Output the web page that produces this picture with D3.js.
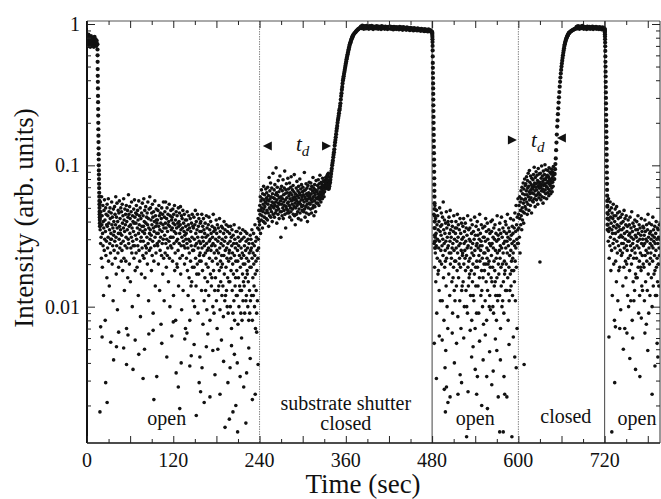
<!DOCTYPE html>
<html>
<head>
<meta charset="utf-8">
<script src="https://cdn.jsdelivr.net/npm/d3@7"></script>
<style>
  body { margin: 0; background: #fff; }
  svg { display: block; }
</style>
</head>
<body>
<script>
// Intensity readings, in units of 1e-3 (arb. units)
var UNIT = 1e-3;

// beam on, before the first shutter cycle: every 0.5 s from 0 s
var startPlateau = [760,800,720,780,840,700,760,810,740,690,780,820,750,710,790,760,730,800,770,690,740,810,760,720,780,740,700,760];
// first decay: every 0.1 s from 14.5 s
var decay1 = [720,660,600,540,480,430,390,350,310,280,250,225,200,180,162,146,132,120,110,100,92,86,80,74,69,64,60,56,53,50,47,45,43,41,39,37];

// shutter open, main band: every 1/3 s from 18 s
var open1 = [
42,35,55,28,47,31,22,60,38,44,19,33,52,27,40,12,36,48,25,57,30,41,8,34,50,23,45,29,38,16,
53,37,26,44,31,58,21,39,47,14,35,28,50,42,24,30,33,46,30,55,38,20,43,27,36,11,49,32,40,25,
34,51,29,45,22,38,60,31,17,43,27,54,36,9.5,40,24,48,33,19,46,30,56,37,26,42,33,35,50,28,21,
47,32,25,53,39,18,44,29,36,58,22,41,13,34,49,27,38,45,21,31,52,7,40,26,35,48,16,43,30,62,
28,45,37,20,51,33,42,15,38,26,47,31,55,24,36,10,44,29,40,27,34,49,22,39,57,27,43,18,32,46,
39,24,52,30,45,19,36,48,27,41,12,33,56,25,38,44,21,35,50,8.5,29,42,31,17,46,37,26,54,34,23,
44,29,37,58,22,40,33,48,16,35,27,51,39,24,26,43,31,46,20,38,55,28,42,11,36,49,25,33,60,30,
35,50,26,41,32,18,46,38,23,53,29,43,9,36,47,21,34,40,27,56,31,14,44,37,24,49,41,33,39,28,
41,27,48,33,20,37,52,29,44,13,35,25,46,31,39,7.5,42,23,50,34,28,45,17,38,30,55,22,36,11,43,
32,47,24,39,55,28,36,19,42,30,50,23,34,26,45,38,15,40,29,53,22,37,10,44,31,27,48,31,35,41,
26,43,36,21,49,31,39,12,45,28,34,52,18,38,24,41,8,33,47,29,36,20,44,19,30,39,25,50,14,37,
40,28,46,33,22,38,51,17,35,27,44,9.5,31,42,23,36,48,13,29,39,27,34,45,20,32,26,41,7,37,30,
33,22,41,28,47,18,35,26,12,38,30,44,16,24,36,8,29,42,21,34,14,27,39,15,31,45,19,25,37,11,
36,25,43,19,30,10,38,27,48,22,33,14,40,28,17,35,20,45,31,9,26,37,17,42,29,23,21,34,24,39,
28,40,21,34,13,45,26,31,18,37,7.5,29,42,23,35,11,27,33,16,39,24,13,31,20,44,28,9.5,36,25,15,
32,19,38,26,12,43,29,22,35,8,30,17,40,25,33,14,27,16,37,21,31,10,28,45,18,34,9,24,36,13,
27,35,16,30,22,41,11,33,25,7,38,20,29,13,36,24,14,31,18,42,26,9.5,34,21,15,28,19,37,23,12,
30,20,36,14,27,8.5,33,23,40,17,29,11,35,25,12,31,19,38,13,26,22,10,34,16,28,9,37,21,15,24,
25,33,15,29,10,37,22,18,31,7,27,35,13,24,20,9,32,17,28,11,38,23,8,30,14,26,16,21,34,12,
28,18,34,12,25,21,7.5,31,16,27,10,36,23,14,29,13,19,33,9,26,22,13,30,8,24,17,35,11,20,15,
23,31,14,27,9,20,34,16,25,11,29,12,22,33,18,17,26,10,30,15,21,8,28,24,13,9,19,32,11,25,
30,19,26,12,35,22,8,28,16,24,12,33,20,14,27,10,23,38,17,7,29,21,13,31,9,18,25,11,36,22,
42,30,26,48,35,40];
// shutter open, sparse low readings: [time s, value]
var openTail1 = [
[18,1.8],[19,7.2],[21,6.1],[26,2.9],[28,2.1],[33,5.6],[37,4.2],[41,5.2],[44,6.6],[51,5.1],
[55,3.9],[57,6.3],[64,3.6],[67,5.8],[72,4.6],[78,3.1],[80,5.0],[86,6.4],[92,6.8],[93,2.2],
[97,3.2],[104,5.5],[111,4.4],[118,6.2],[120,7.8],[124,3.4],[127,2.7],[129,1.9],[131,4.0],[136,5.9],
[139,6.5],[143,3.8],[145,4.5],[149,5.4],[152,1.7],[156,2.9],[157,4.4],[158,2.5],[160,3.7],[163,2.1],
[166,5.2],[168,6.4],[171,2.3],[175,4.9],[178,3.3],[182,5.0],[185,2.4],[187,5.8],[190,4.1],[192,1.4],
[196,2.9],[198,1.6],[199,3.7],[201,5.3],[203,1.8],[205,4.6],[207,2.0],[209,4.0],[209.5,1.3],[213,3.2],
[215,6.0],[218,2.7],[221,1.5],[222,3.4],[225,5.1],[227,4.3],[230,2.2],[234,2.4],[236,6.6],[238,3.9]];

// substrate shutter closed: every 1/3 s from 240 s
var closed1 = [
38,52,45,60,33,48,56,41,67,50,44,58,36,63,47,53,40,71,49,57,43,62,51,39,55,46,68,54,42,59,
64,48,57,41,70,53,46,61,37,56,82,50,44,66,58,49,75,43,60,52,47,69,55,40,63,51,88,45,59,54,
50,67,43,58,73,52,46,62,55,96,48,64,39,57,70,51,61,45,78,54,49,65,42,59,53,84,47,68,56,31,
60,47,71,53,44,66,58,50,79,42,62,55,48,69,52,91,45,63,57,36,67,51,74,49,59,46,64,54,81,48,
55,68,46,61,52,75,43,58,64,50,70,47,83,56,41,62,53,67,49,59,72,45,57,65,51,86,44,60,54,38,
63,50,58,69,45,56,77,52,61,47,66,54,42,71,59,49,64,55,80,46,62,53,68,41,57,73,51,60,48,65,
57,70,52,62,47,66,55,89,49,60,43,67,58,51,74,46,63,56,69,53,40,61,72,50,58,64,45,76,54,59,
61,53,68,49,75,57,63,46,71,55,58,66,50,82,60,52,69,44,64,56,73,51,62,67,47,59,78,54,65,58,
66,58,72,54,63,79,60,69,52,74,62,57,85,65,59,70,55,76,64,68,61,73,58,81,66,71,63,77,69,60,
72,65,78,70,74,68,82,75,71,79,76,84,80,73,86,78,83,88];

// first rise after closing: [time s, value]
var rise1 = [
[336,68],[336.5,69],[337,71],[337.5,74],[338,76],[338.5,79],[339,83],[339.5,87],[340,91],[340.5,95],
[341,100],[341.5,104],[342,108],[342.5,114],[343,119],[343.5,124],[344,130],[344.5,138],[345,145],[345.5,151],
[346,158],[346.5,166],[347,175],[347.5,182],[348,190],[348.5,200],[349,209],[349.5,216],[350,224],[350.5,234],
[351,245],[351.5,251],[352,263],[352.5,275],[353,292],[353.5,309],[354,324],[354.5,343],[355,359],[355.5,380],
[356,398],[356.5,412],[357,427],[357.5,442],[358,457],[358.5,473],[359,490],[359.5,507],[360,525],[360.5,543],
[361,562],[361.5,578],[362,594],[362.5,611],[363,628],[363.5,646],[364,664],[364.5,682],[365,700],[365.5,716],
[366,730],[366.5,743],[367,757],[367.5,769],[368,782],[368.5,794],[369,807],[369.5,818],[370,830],[371,845],
[372,859],[373,871],[374,883],[375,895],[376,906],[377,916],[378,925],[379,933],[380,940]];

// plateau while closed: every 1 s from 381 s
var plateau1 = [
960,935,975,945,925,965,950,930,970,940,955,925,965,945,935,970,950,920,960,940,
955,930,965,945,925,960,940,950,920,965,935,955,945,925,960,935,950,920,955,940,
930,960,925,945,950,915,955,935,945,920,950,930,940,915,955,925,945,935,910,950,
925,940,930,910,945,920,935,925,905,940,915,930,920,900,935,910,925,915,900,930,
905,920,910,895,925,900,915,905,890,920,895,910,900,885,915,890,905,895,880];

// decay after opening at 480 s: every 0.1 s
var decay2 = [880,870,855,835,810,780,745,700,650,590,530,490,450,415,380,350,320,292,266,242,220,200,181,164,149,135,122,110,100,90,81,73,66,60,54,49,44,40,36,32,29,26];

// shutter open, main band: every 1/3 s from 482.5 s
var open2 = [
45,28,36,19,52,31,24,42,15,33,27,48,9,38,22,30,44,17,35,18,26,40,13,29,50,21,34,11,37,25,
32,46,20,38,27,11,43,30,23,55,16,35,8,28,41,19,33,25,21,39,29,14,47,22,36,10,31,26,7,40,
27,38,17,43,24,33,12,29,48,20,35,24,31,22,40,15,26,37,9,28,16,34,19,44,25,13,30,21,11,36,
33,21,40,26,14,36,29,18,45,24,8.5,31,38,16,27,20,35,22,11,42,28,19,33,7,25,39,13,30,14,23,
24,37,15,31,42,20,28,10,34,25,22,39,18,29,13,36,23,10,32,26,9,44,19,27,14,35,21,16,30,17,
36,22,29,12,41,26,18,33,8,24,38,15,28,20,12,34,23,11,30,17,43,25,7,32,19,14,37,27,9,21,
28,40,19,32,14,26,35,9,23,30,16,45,21,27,33,25,12,29,38,18,13,27,22,10,36,16,31,7.5,24,20,
31,18,37,24,11,29,42,20,15,34,8,26,22,39,13,30,20,25,17,35,21,10,28,12,33,19,9.5,27,40,16,
23,34,15,28,41,19,10,31,26,9,36,21,14,30,18,38,15,25,12,33,22,8,29,16,44,24,11,12,32,20,
30,17,35,25,12,39,22,27,7,33,19,14,43,26,10,31,20,11,36,24,15,28,9,34,21,17,29,18,40,13,
26,38,20,33,13,29,24,45,16,31,8,27,36,19,11,34,23,13,30,17,42,25,14,32,21,18,28,37,12,22,
33,24,41,18,29,36,15,27,46,21,11,34,26,52,19,38,30,7,43,28,35,58];
// shutter open, sparse low readings: [time s, value]
var openTail2 = [
[483,5.5],[486,3.1],[490,6.2],[494,5.8],[497,2.6],[498,3.7],[498.5,1.8],[499,4.9],[500,2.7],[502,2.1],
[505,2.3],[508,6.5],[511,4.0],[514,5.5],[516,2.4],[519,3.3],[521,2.9],[524,6.0],[528,1.2],[530,2.5],
[533,6.8],[535,4.4],[537,5.2],[540,3.6],[542,2.4],[543,3.2],[546,5.7],[549,2.0],[551,4.2],[554,6.3],
[556,3.2],[557,1.9],[560,4.8],[563,2.8],[565,3.5],[568,5.9],[570,4.9],[572,2.3],[574,1.3],[575,4.2],
[579,1.3],[580,3.2],[581,2.4],[584,2.3],[587,5.4],[591,1.2],[593,6.1],[595,4.4],[597,3.7],[608,3.9],
[630,20.7]];

// shutter closed: every 1/3 s from 600 s
var closed2 = [
28,45,36,52,31,60,42,24,55,48,38,66,44,58,35,70,50,41,63,47,75,54,39,68,57,46,80,62,51,72,
58,74,49,66,83,55,62,45,78,69,53,88,60,71,48,65,92,57,76,63,52,84,67,59,73,46,81,64,70,56,
68,79,55,86,63,72,97,58,75,66,51,82,70,61,90,74,57,67,85,62,78,53,71,95,64,76,59,87,69,73,
76,62,88,70,57,81,66,99,73,60,84,68,77,54,91,72,65,80,59,86,74,101,67,79,63,93,71,82,58,75,
70,85,64,92,77,68,83,61,96,74,80,66,89,72,78,63,87,75,94,69,81,65,90,76,84,71,98,79,86,88];

// second rise: [time s, value]
var rise2 = [
[650,80],[650.5,87],[651,94],[651.5,102],[652,112],[652.5,128],[653,145],[653.5,165],[654,188],[654.5,208],
[655,230],[655.5,253],[656,278],[656.5,303],[657,330],[657.5,360],[658,390],[658.5,418],[659,446],[659.5,473],
[660,500],[660.5,525],[661,550],[661.5,575],[662,600],[662.5,625],[663,650],[663.5,675],[664,700],[664.5,718],
[665,736],[665.5,753],[666,770],[666.5,783],[667,795],[667.5,807],[668,818],[668.5,829],[669,839],[669.5,849],
[670,858],[670.5,864],[671,870],[672,879],[673,887],[674,895],[675,902],[676,908],[677,914],[678,920],
[679,925],[680,930]];

// plateau while closed: every 1 s from 681 s
var plateau2 = [
955,930,965,940,925,960,945,935,970,940,925,955,935,950,920,960,940,930,955,925,
945,935,960,920,950,940,930,955,925,945,935,920,950,930,940,915,945,925,935,920];

// decay after opening at 720 s: every 0.1 s
var decay3 = [920,905,890,870,845,815,780,740,695,645,590,540,500,460,425,390,358,328,300,274,250,228,208,190,173,158,144,131,119,108,98,89,81,74,67,61,56,51,46,42,38,35];

// shutter open, main band: every 1/3 s from 724 s
var open3 = [
52,38,45,29,58,34,41,22,48,36,27,55,31,43,18,39,50,25,35,46,12,33,42,28,53,37,20,44,30,8,
40,26,49,33,21,44,36,15,51,29,38,24,46,11,34,42,27,18,37,31,47,19,35,25,43,9.5,32,39,23,28,
35,45,24,31,14,40,28,36,19,48,26,33,7,42,30,21,38,16,44,27,20,34,25,37,12,29,41,22,10,32,
29,38,18,33,43,23,27,11,36,31,20,47,25,8,34,28,39,15,30,22,11,37,26,13,41,24,32,17,35,16,
31,22,40,27,16,35,29,44,19,33,9,26,38,21,12,30,36,24,19,32,18,42,28,14,34,23,13,30,37,20,
27,36,19,32,11,28,41,23,34,15,30,25,7.5,38,21,29,13,35,24,45,17,31,9,26,39,20,33,12,28,22,
34,24,30,16,38,27,10,32,21,43,26,14,35,29,17,31,23,37,18,28,12,33,25,40,19,12,30,22,36,15,
28,35,20,31,14,26,38,23,30];
// shutter open, sparse low readings: [time s, value]
var openTail3 = [
[726,6.1],[730,1.3],[734,2.9],[735,7.2],[741,7.0],[746,5.0],[751,6.5],[755,4.3],[759,6.0],[763,3.6],
[769,3.2],[771,8.3],[776,6.5],[780,4.9],[786,2.4],[790,3.8],[793,5.5],[794,4.4]];

// regularly sampled curve parts: [values, first time (s), step (s)]
var curveRuns = [
  [startPlateau, 0, 0.5],
  [decay1, 14.5, 0.1],
  [plateau1, 381, 1],
  [decay2, 480, 0.1],
  [plateau2, 681, 1],
  [decay3, 720, 0.1]
];
// regularly sampled scatter parts
var scatterRuns = [
  [open1, 18, 1/3],
  [closed1, 240, 1/3],
  [open2, 482.5, 1/3],
  [closed2, 600, 1/3],
  [open3, 724, 1/3]
];

var shutterTimes = [240, 480, 600, 720];
var xTickLabels = [0, 120, 240, 360, 480, 600, 720];
var yTickLabels = [1, 0.1, 0.01];

// ---------------------------------------------------------------
var W = 661, H = 499;
var mLeft = 87, mRight = 660, mTop = 21, mBottom = 443;

var x = d3.scaleLinear().domain([0, 797]).range([mLeft, mRight]);
var y = d3.scaleLog().domain([0.001, 1]).range([448, 24]);

var svg = d3.select("body").append("svg")
    .attr("width", W).attr("height", H)
    .style("font-family", "'Liberation Serif', 'Times New Roman', serif");

svg.append("rect").attr("width", W).attr("height", H).attr("fill", "#fff");

svg.append("clipPath").attr("id", "plotclip")
  .append("rect")
    .attr("x", mLeft).attr("y", mTop)
    .attr("width", mRight - mLeft).attr("height", mBottom - mTop);

function expand(runs){
    var out = [];
    runs.forEach(function(s){
        s[0].forEach(function(v, i){ out.push([s[1] + i * s[2], v * UNIT]); });
    });
    return out;
}
function scalePairs(list){
    return list.map(function(p){ return [p[0], p[1] * UNIT]; });
}

var scatterPts = expand(scatterRuns)
    .concat(scalePairs(openTail1), scalePairs(openTail2), scalePairs(openTail3));
var curvePts = expand(curveRuns).concat(scalePairs(rise1), scalePairs(rise2));

// shutter lines
svg.append("g").selectAll("line")
    .data(shutterTimes)
    .enter().append("line")
      .attr("x1", function(d){ return x(d); })
      .attr("x2", function(d){ return x(d); })
      .attr("y1", mTop).attr("y2", mBottom)
      .attr("stroke", function(d, i){ return i % 2 ? "#444" : "#888"; })
      .attr("stroke-width", 1)
      .attr("stroke-dasharray", function(d, i){ return i % 2 ? null : "1.5,1"; });

// data
var plot = svg.append("g").attr("clip-path", "url(#plotclip)");
plot.append("g").selectAll("circle")
    .data(scatterPts)
    .enter().append("circle")
      .attr("cx", function(d){ return x(d[0]); })
      .attr("cy", function(d){ return y(d[1]); })
      .attr("r", 1.8)
      .attr("fill", "#111");
plot.append("g").selectAll("circle")
    .data(curvePts)
    .enter().append("circle")
      .attr("cx", function(d){ return x(d[0]); })
      .attr("cy", function(d){ return y(d[1]); })
      .attr("r", 2.1)
      .attr("fill", "#111");

// frame
svg.append("line").attr("x1", mLeft).attr("x2", mRight).attr("y1", mTop).attr("y2", mTop)
    .attr("stroke", "#555").attr("stroke-width", 1);
svg.append("line").attr("x1", mLeft).attr("x2", mRight).attr("y1", mBottom).attr("y2", mBottom)
    .attr("stroke", "#111").attr("stroke-width", 1.5);
svg.append("line").attr("x1", mLeft).attr("x2", mLeft).attr("y1", mTop).attr("y2", mBottom)
    .attr("stroke", "#111").attr("stroke-width", 2);
svg.append("line").attr("x1", mRight).attr("x2", mRight).attr("y1", mTop).attr("y2", mBottom)
    .attr("stroke", "#333").attr("stroke-width", 1);

// x ticks (inward), top and bottom
var xMajor = d3.range(0, 797, 60), xMinor = d3.range(30, 797, 60);
function tickAxis(axis, vals, size, tx, ty){
    var g = svg.append("g").attr("transform", "translate(" + tx + "," + ty + ")")
        .call(axis.tickValues(vals).tickSizeInner(size).tickSizeOuter(0).tickFormat(""));
    g.select(".domain").remove();
    g.selectAll("line").attr("stroke", "#222").attr("stroke-width", 1);
    return g;
}
tickAxis(d3.axisBottom(x), xMajor, -7, 0, mBottom);
tickAxis(d3.axisBottom(x), xMinor, -4, 0, mBottom);
tickAxis(d3.axisTop(x), xMajor, -7, 0, mTop);
tickAxis(d3.axisTop(x), xMinor, -4, 0, mTop);

// y ticks (inward), left and right
var yMajor = [0.01, 0.1, 1];
var yMinor = [];
[0.001, 0.01, 0.1].forEach(function(dec){
    d3.range(2, 10).forEach(function(m){
        var v = dec * m;
        if (y(v) < mBottom - 1) yMinor.push(v);
    });
});
tickAxis(d3.axisLeft(y), yMajor, -8, mLeft, 0);
tickAxis(d3.axisLeft(y), yMinor, -4, mLeft, 0);
tickAxis(d3.axisRight(y), yMajor, -8, mRight, 0);
tickAxis(d3.axisRight(y), yMinor, -4, mRight, 0);

// tick labels
svg.append("g").selectAll("text")
    .data(xTickLabels)
    .enter().append("text")
      .attr("x", function(d){ return x(d); })
      .attr("y", 467)
      .attr("text-anchor", "middle")
      .attr("font-size", 20)
      .attr("fill", "#111")
      .text(function(d){ return d; });

svg.append("g").selectAll("text")
    .data(yTickLabels)
    .enter().append("text")
      .attr("x", 80)
      .attr("y", function(d){ return y(d) + 7; })
      .attr("text-anchor", "end")
      .attr("font-size", 20)
      .attr("fill", "#111")
      .text(function(d){ return String(d); });

// axis titles
svg.append("text")
    .attr("x", 363).attr("y", 493)
    .attr("text-anchor", "middle")
    .attr("font-size", 27)
    .attr("fill", "#111")
    .text("Time (sec)");

svg.append("text")
    .attr("transform", "translate(33,218) rotate(-90)")
    .attr("text-anchor", "middle")
    .attr("font-size", 27)
    .attr("fill", "#111")
    .text("Intensity (arb. units)");

// region labels: [text, time (s), baseline px]
var regionLabels = [
    ["open", 111, 425],
    ["substrate shutter", 360, 410],
    ["closed", 360, 430],
    ["open", 540, 425],
    ["closed", 666, 423],
    ["open", 765, 425]
];
svg.append("g").selectAll("text")
    .data(regionLabels)
    .enter().append("text")
      .attr("x", function(d){ return x(d[1]); })
      .attr("y", function(d){ return d[2]; })
      .attr("text-anchor", "middle")
      .attr("font-size", 20)
      .attr("fill", "#111")
      .text(function(d){ return d[0]; });

// t_d markers: [time, direction]
var tdArrows = [[251.5, -1], [332.5, 1], [591, 1], [660.5, -1]];
var tdArrowY = [146, 146, 140, 138];
svg.append("g").selectAll("path")
    .data(tdArrows)
    .enter().append("path")
      .attr("transform", function(d, i){ return "translate(" + x(d[0]) + "," + tdArrowY[i] + ")"; })
      .attr("d", function(d){ return d[1] < 0 ? "M-5,0L4,-4.5L4,4.5Z" : "M5,0L-4,-4.5L-4,4.5Z"; })
      .attr("fill", "#111");

var tdLabels = [[299, 151], [626, 147]];
tdLabels.forEach(function(p){
    var t = svg.append("text")
        .attr("x", x(p[0]) - 6).attr("y", p[1])
        .attr("font-size", 21)
        .attr("font-style", "italic")
        .attr("fill", "#111");
    t.append("tspan").text("t");
    t.append("tspan").attr("dy", 5).attr("font-size", 15).text("d");
});
</script>
</body>
</html>
